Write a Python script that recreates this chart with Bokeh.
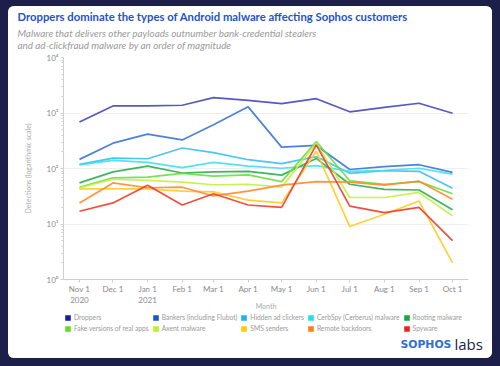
import pandas as pd
from bokeh.plotting import figure
from bokeh.layouts import column, row
from bokeh.models import (Range1d, FixedTicker, Legend, LegendItem, Label, ColumnDataSource,
                          Spacer)
from bokeh.embed import file_html
from bokeh.resources import INLINE

# ---- data ----
months = ["2020-11-01", "2020-12-01", "2021-01-01", "2021-02-01", "2021-03-01", "2021-04-01",
          "2021-05-01", "2021-06-01", "2021-07-01", "2021-08-01", "2021-09-01", "2021-10-01"]
month_labels = ["Nov 1\n2020", "Dec 1", "Jan 1\n2021", "Feb 1", "Mar 1", "Apr 1",
                "May 1", "Jun 1", "Jul 1", "Aug 1", "Sep 1", "Oct 1"]

droppers = [690, 1340, 1340, 1380, 1890, 1690, 1480, 1810, 1050, 1260, 1500, 990]
bankers = [146, 286, 417, 327, 616, 1290, 243, 260, 96, 108, 117, 85]
hidden_ad = [119, 154, 150, 234, 193, 144, 122, 164, 82, 91, 89, 44]
cerbspy = [116, 140, 129, 104, 129, 110, 101, 113, 89, 93, 101, 79]
rooting = [55, 87, 110, 83, 87, 89, 76, 152, 52, 42, 41, 18]
fake_apps = [46, 68, 70, 82, 73, 77, 58, 306, 60, 52, 58, 35]
axent = [45, 64, 61, 57, 51, 52, 46, 286, 30, 30, 37, 14]
sms = [43, 43, 43, 39, 38, 27, 24, 204, 9, 15, 26, 2]
backdoors = [24, 55, 45, 46, 32, 39, 50, 58, 57, 50, 59, 28]
spyware = [17, 24, 50, 22, 35, 22, 20, 267, 21, 16, 20, 5]

series_names = ["Droppers", "Bankers (including Flubot)", "Hidden ad clickers",
                "CerbSpy (Cerberus) malware", "Rooting malware", "Fake versions of real apps",
                "Axent malware", "SMS senders", "Remote backdoors", "Spyware"]
series_values = [droppers, bankers, hidden_ad, cerbspy, rooting, fake_apps, axent, sms,
                 backdoors, spyware]
swatch_colors = ["#1c1ca0", "#1558cc", "#19b4ee", "#1ee0ec", "#18a840", "#5ade2a",
                 "#bdf026", "#ffc80a", "#ff8010", "#e8261a"]
line_colors = ["#4646bc", "#3a74d6", "#38bff0", "#40dff0", "#2aae4c", "#6ade40",
               "#c4f040", "#ffcc22", "#ff8a2a", "#ee3c2c"]

y_ticks = [1, 10, 100, 1000, 10000]
y_tick_labels = ["10⁰", "10¹", "10²", "10³", "10⁴"]

title_text = "Droppers dominate the types of Android malware affecting Sophos customers"
subtitle_lines = ["Malware that delivers other payloads outnumber bank-credential stealers",
                  "and ad-clickfraud malware by an order of magnitude"]

FONT = "Lato"
NAVY = "#1d1f4b"
CARD_W = 484
HEAD_H, MAIN_H, FOOT_H = 45, 261, 46


def blank_panel(h):
    f = figure(width=CARD_W, height=h, output_backend="svg", toolbar_location=None,
               x_range=Range1d(0, CARD_W), y_range=Range1d(h, 0),
               x_axis_location=None, y_axis_location=None, min_border=0,
               frame_align=False)
    f.grid.visible = False
    f.outline_line_color = None
    f.background_fill_color = "white"
    f.border_fill_color = "white"
    return f


# ---- header ----
head = blank_panel(HEAD_H)
head.add_layout(Label(x=9, y=10, text=title_text, text_baseline="middle", text_font=FONT,
                      text_font_size="11.3px", text_font_style="bold", text_color="#2553c4"))
for i, line in enumerate(subtitle_lines):
    head.add_layout(Label(x=9, y=26 + 12 * i, text=line, text_baseline="middle",
                          text_font=FONT, text_font_size="9.9px", text_font_style="italic",
                          text_color="#9a9a9a"))

# ---- main chart ----
dates = pd.to_datetime(months)
x_ms = [d.timestamp() * 1000 for d in dates]
day = 86400000.0

fig = figure(width=CARD_W, height=MAIN_H, output_backend="svg", toolbar_location=None,
             y_axis_type="log",
             x_range=Range1d(x_ms[0] - 14.3 * day, x_ms[-1] + 14.3 * day),
             y_range=Range1d(1, 10000),
             min_border_left=55, min_border_right=24, min_border_top=6, min_border_bottom=27,
             frame_align=False)
fig.outline_line_color = None
fig.background_fill_color = "white"
fig.border_fill_color = "white"
fig.xgrid.grid_line_color = None
fig.ygrid.grid_line_color = "#efefef"
fig.ygrid.ticker = FixedTicker(ticks=y_ticks)

minor = [m * 10 ** e for e in range(0, 4) for m in range(2, 10)]
fig.yaxis.ticker = FixedTicker(ticks=y_ticks, minor_ticks=minor)
fig.yaxis.major_label_overrides = {t: l for t, l in zip(y_ticks, y_tick_labels)}
fig.xaxis.ticker = FixedTicker(ticks=x_ms)
fig.xaxis.major_label_overrides = {t: l for t, l in zip(x_ms, month_labels)}

for ax in (fig.xaxis[0], fig.yaxis[0]):
    ax.axis_line_color = "#cfcfcf"
    ax.major_tick_line_color = "#cfcfcf"
    ax.minor_tick_line_color = "#cfcfcf"
    ax.major_tick_in = 0
    ax.minor_tick_in = 0
    ax.major_label_text_font = FONT
    ax.major_label_text_color = "#8a8a8a"
    ax.major_label_text_font_size = "8px"
    ax.axis_label_text_font = FONT
    ax.axis_label_text_color = "#aaaaaa"
    ax.axis_label_text_font_size = "7px"
    ax.axis_label_text_font_style = "normal"

fig.yaxis.major_tick_out = 3
fig.yaxis.minor_tick_out = 2
fig.yaxis.major_label_standoff = 2
fig.yaxis.axis_label = "Detections (logarithmic scale)"
fig.yaxis.axis_label_standoff = 12
fig.xaxis.major_tick_out = 3
fig.xaxis.minor_tick_out = 0
fig.xaxis.major_label_standoff = 1
fig.xaxis.major_label_text_line_height = 1.1
fig.xaxis.axis_label = "Month"
fig.xaxis.axis_label_standoff = -6

for name, vals, c in zip(series_names, series_values, line_colors):
    src = ColumnDataSource(dict(x=x_ms, y=vals))
    fig.line("x", "y", source=src, line_color=c, line_width=1.7, line_alpha=0.9)

# ---- footer: legend + logo ----
foot = blank_panel(FOOT_H)
items = []
for name, c in zip(series_names, swatch_colors):
    sw = foot.quad(left=[float("nan")], right=[float("nan")], bottom=[float("nan")],
                   top=[float("nan")], fill_color=c, line_color=None)
    items.append(LegendItem(label=name, renderers=[sw]))
legend = Legend(items=items, ncols=5, orientation="horizontal", location=(56, 26),
                padding=0, margin=0, spacing=3, label_standoff=3,
                glyph_width=7, glyph_height=7, label_height=8,
                label_text_font=FONT, label_text_font_size="6.7px", label_text_color="#9a9a9a",
                background_fill_alpha=0, border_line_color=None)
foot.add_layout(legend, "center")
foot.add_layout(Label(x=392, y=32, text="SOPHOS", text_baseline="middle",
                      text_font="DejaVu Sans", text_font_size="10.8px", text_font_style="bold",
                      text_color="#2f6fd0"))
foot.add_layout(Label(x=446, y=31, text="labs", text_baseline="middle",
                      text_font="Open Sans", text_font_size="15px", text_color="#1b2448"))

card = column(head, fig, foot, spacing=0,
              styles={"background-color": "white", "border-radius": "6px", "overflow": "hidden"})
p = column(Spacer(width=500, height=6),
           row(Spacer(width=8, height=352), card, Spacer(width=8, height=352), spacing=0),
           Spacer(width=500, height=8),
           spacing=0, width=500, height=366, styles={"background-color": NAVY})

open("out.html", "w").write(file_html(p, INLINE))
